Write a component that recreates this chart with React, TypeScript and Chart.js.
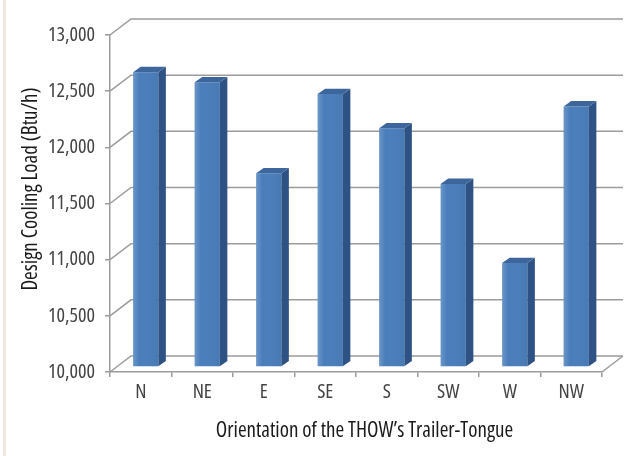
import React, { useEffect, useRef } from "react";
import { Chart, registerables } from "chart.js";

Chart.register(...registerables);

// ---- data ----
const categories = ["N", "NE", "E", "SE", "S", "SW", "W", "NW"];
const coolingLoad = [12625, 12535, 11725, 12430, 12125, 11630, 10925, 12320];
const yMin = 10000;
const yMax = 13000;
const yStep = 500;
const xTitle = "Orientation of the THOW\u2019s Trailer-Tongue";
const yTitle = "Design Cooling Load (Btu/h)";

// ---- style ----
const FAMILY = "'Open Sans', 'DejaVu Sans Condensed', sans-serif";
const STRETCH = "condensed"; // goes into the CSS font shorthand
const GRID = "#9c9c9c";
const FRONT = "#4a7ebb";
const SIDE = "#2e5283";
const TOP = "#3d679c";
const TITLE_COLOR = "#1a1a1a";
const WALL_DX = 21;
const WALL_DY = -16;
const BAR_DX = 5;
const BAR_DY = -5;
const BAR_DEPTH_DX = 7.5;
const BAR_DEPTH_DY = -5.3;

const threeD = {
  id: "threeD",
  beforeDraw(chart: any) {
    const { ctx, width, height } = chart;
    ctx.save();
    ctx.fillStyle = "#ffffff";
    ctx.fillRect(0, 0, width, height);
    ctx.fillStyle = "#eee8df";
    ctx.fillRect(3, 0, 3, height);
    ctx.restore();
  },
  beforeDatasetsDraw(chart: any) {
    const { ctx, chartArea: a, scales } = chart;
    const y = scales.y;
    ctx.save();
    ctx.strokeStyle = GRID;
    ctx.lineWidth = 1.5;
    ctx.beginPath();
    for (const t of y.ticks) {
      const py = y.getPixelForValue(t.value);
      ctx.moveTo(a.left, py);
      ctx.lineTo(a.left + WALL_DX, py + WALL_DY);
      ctx.lineTo(a.right + WALL_DX, py + WALL_DY);
    }
    ctx.moveTo(a.right, a.bottom);
    ctx.lineTo(a.right + WALL_DX, a.bottom + WALL_DY);
    ctx.stroke();
    ctx.restore();
  },
  beforeDatasetDraw(chart: any) {
    const { ctx } = chart;
    ctx.save();
    ctx.translate(BAR_DX, BAR_DY);
  },
  afterDatasetDraw(chart: any, args: any) {
    const { ctx } = chart;
    for (const el of args.meta.data) {
      const { x, y, base, width } = el.getProps(["x", "y", "base", "width"], true);
      const l = x - width / 2;
      const r = x + width / 2;
      const g = ctx.createLinearGradient(l, 0, r, 0);
      g.addColorStop(0, "rgba(255,255,255,0.18)");
      g.addColorStop(0.25, "rgba(255,255,255,0.0)");
      g.addColorStop(1, "rgba(0,0,0,0.04)");
      ctx.fillStyle = g;
      ctx.fillRect(l, y, width, base - y);
      ctx.fillStyle = SIDE;
      ctx.beginPath();
      ctx.moveTo(r, y);
      ctx.lineTo(r + BAR_DEPTH_DX, y + BAR_DEPTH_DY);
      ctx.lineTo(r + BAR_DEPTH_DX, base + BAR_DEPTH_DY);
      ctx.lineTo(r, base);
      ctx.closePath();
      ctx.fill();
      ctx.fillStyle = TOP;
      ctx.beginPath();
      ctx.moveTo(l, y);
      ctx.lineTo(l + BAR_DEPTH_DX, y + BAR_DEPTH_DY);
      ctx.lineTo(r + BAR_DEPTH_DX, y + BAR_DEPTH_DY);
      ctx.lineTo(r, y);
      ctx.closePath();
      ctx.fill();
    }
    ctx.restore();
  },
  afterDraw(chart: any) {
    const { ctx, chartArea: a } = chart;
    ctx.save();
    ctx.fillStyle = TITLE_COLOR;
    ctx.font = `normal ${STRETCH} 21px ${FAMILY}`;
    ctx.textBaseline = "alphabetic";
    ctx.textAlign = "center";
    // x-axis title, centred under the 3-D floor
    ctx.fillText(xTitle, (a.left + a.right + WALL_DX) / 2 - 2, a.bottom + 65);
    // y-axis title
    ctx.translate(37, (a.top + a.bottom) / 2 - 14.5);
    ctx.rotate(-Math.PI / 2);
    ctx.fillText(yTitle, 0, 0);
    ctx.restore();
  },
};

export default function App() {
  const ref = useRef<HTMLCanvasElement | null>(null);
  useEffect(() => {
    if (!ref.current) return;
    const tickFont = { family: FAMILY, size: 20, weight: STRETCH as any };
    const chart = new Chart(ref.current, {
      type: "bar",
      data: {
        labels: categories,
        datasets: [
          {
            data: coolingLoad,
            base: yMin,
            backgroundColor: FRONT,
            borderWidth: 0,
            barPercentage: 0.41,
            categoryPercentage: 1,
            clip: false as any,
          } as any,
        ],
      },
      options: {
        animation: false,
        responsive: false,
        devicePixelRatio: 1,
        layout: { padding: { left: 0, right: 35, top: 35, bottom: 0 } },
        plugins: { legend: { display: false }, tooltip: { enabled: false } },
        scales: {
          x: {
            ticks: { padding: 3, color: "#444", font: tickFont },
            grid: { offset: true, drawOnChartArea: false, drawTicks: true, tickLength: 5, color: GRID, lineWidth: 1.5 },
            border: { display: true, color: GRID, width: 1.5 },
            title: { display: false, text: xTitle },
            afterFit: (s: any) => {
              s.height = 84;
            },
          },
          y: {
            min: yMin,
            max: yMax,
            ticks: {
              stepSize: yStep,
              padding: 10,
              color: "#444",
              font: tickFont,
              callback: (v: any) => Number(v).toLocaleString("en-US"),
            },
            grid: { drawOnChartArea: false, drawTicks: true, tickLength: 5, color: GRID, lineWidth: 1.5 },
            border: { display: true, color: GRID, width: 1.5 },
            title: { display: false, text: yTitle },
            afterFit: (s: any) => {
              s.width = 110;
            },
          },
        },
      },
      plugins: [threeD],
    });
    return () => chart.destroy();
  }, []);
  return (
    <div style={{ position: "absolute", left: 0, top: 0, width: 637, height: 456 }}>
      <canvas ref={ref} width={637} height={456} style={{ display: "block", width: 637, height: 456 }} />
    </div>
  );
}
